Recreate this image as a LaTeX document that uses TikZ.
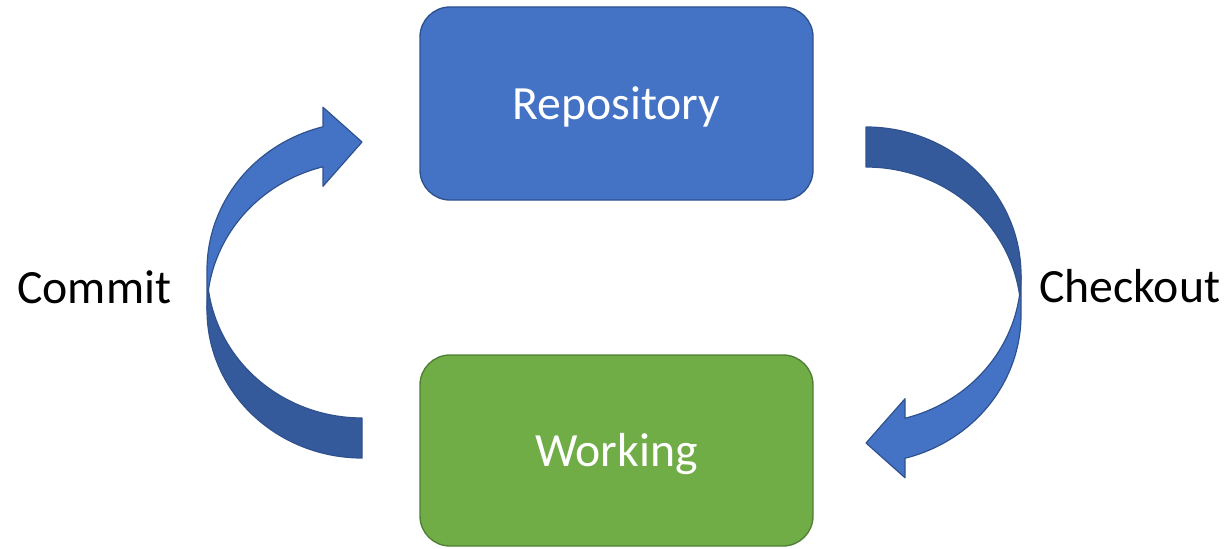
\documentclass[tikz,border=0pt]{standalone}
\usepackage{fontspec}
\setmainfont{Carlito}
\definecolor{repoblue}{HTML}{4472C4}
\definecolor{repoedge}{HTML}{2F528F}
\definecolor{bandback}{HTML}{355A9C}
\definecolor{workgreen}{HTML}{70AD47}
\definecolor{workedge}{HTML}{507E32}
\tikzset{
  box/.style={rounded corners=22.5pt, line width=1pt, minimum width=294.75pt,
    text=white, inner sep=0pt, text height=24pt, text depth=0pt,
    font=\fontsize{35.8}{42}\selectfont},
  caption/.style={anchor=base west, inner sep=0pt, text=black,
    font=\fontsize{35.8}{42}\selectfont},
  bandfront/.style={fill=repoblue, draw=repoedge, line width=0.9pt, line join=round},
  bandrear/.style={fill=bandback, draw=repoedge, line width=0.9pt, line join=round},
}
% curved block arrow: rear band from the tail, front band carrying the head
\newcommand{\curvedblockarrow}{%
  \path[bandfront]
    plot[domain=180:255.43, samples=50, variable=\t] ({362+155*cos(\t)},{310+148*sin(\t)})
    -- (323,186.26) -- (362,142) -- (323,107.26)
    -- plot[domain=255.43:180, samples=50, variable=\t] ({362+155*cos(\t)},{270+148*sin(\t)})
    -- cycle;
  \path[bandrear]
    plot[domain=90:172.23, samples=50, variable=\t] ({362+155*cos(\t)},{270+148*sin(\t)})
    -- plot[domain=187.77:90, samples=50, variable=\t] ({362+155*cos(\t)},{310+148*sin(\t)})
    -- cycle;
}
\begin{document}
\begin{tikzpicture}[x=0.75pt, y=-0.75pt]
\useasboundingbox (0,0) rectangle (1230,549);

\node[box, fill=repoblue, draw=repoedge, minimum height=144.75pt] (repo) at (616.5,103.5) {Repository};
\node[box, fill=workgreen, draw=workedge, minimum height=143.25pt] (work) at (616.5,450.5) {Working};

% commit arrow on the left
\curvedblockarrow
% checkout arrow on the right: the same shape turned half a turn
\begin{scope}[rotate around={180:(614,292.5)}]
\curvedblockarrow
\end{scope}

\node[caption] (commit) at (17,303.3) {Commit};
\node[caption] (checkout) at (1039,302.7) {Checkout};
\end{tikzpicture}
\end{document}
